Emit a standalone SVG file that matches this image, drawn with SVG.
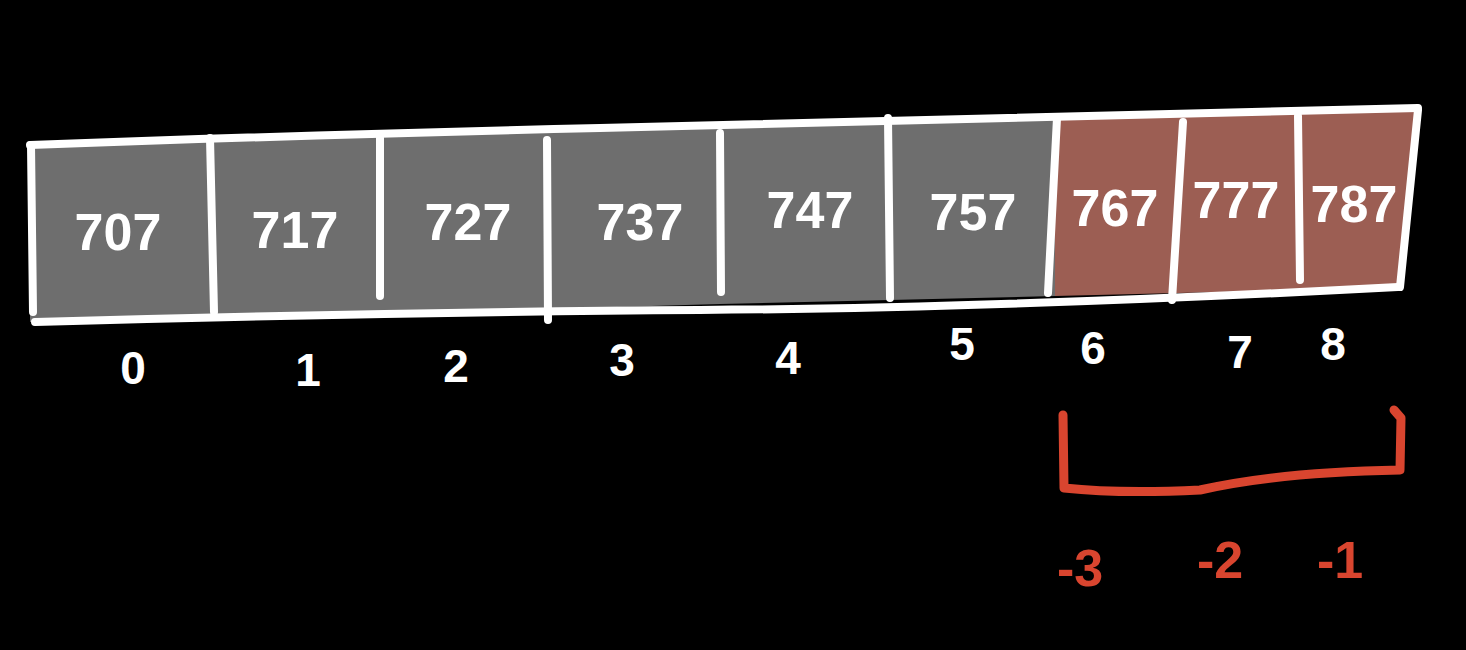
<svg xmlns="http://www.w3.org/2000/svg" width="1466" height="650" viewBox="0 0 1466 650">
<style>
.cell{stroke:none}
.gray{fill:#6e6e6e}
.red{fill:#9c5e53}
.edge{fill:none;stroke:#ffffff;stroke-width:8;stroke-linecap:round;stroke-linejoin:round}
.val{font-family:"Liberation Sans",Arial,sans-serif;font-size:52px;font-weight:bold;fill:#ffffff;text-anchor:middle}
.idx{font-family:"Liberation Sans",Arial,sans-serif;font-size:46px;font-weight:bold;fill:#ffffff;text-anchor:middle}
.neg{font-family:"Liberation Sans",Arial,sans-serif;font-size:52px;font-weight:bold;fill:#d9452f;text-anchor:middle}
.br{fill:none;stroke:#d9452f;stroke-width:9;stroke-linecap:round;stroke-linejoin:round}
</style>
<rect width="1466" height="650" fill="#000"/>
<g id="cell0"><polygon class="cell gray" points="30,145 210,140 210,318 30,322"/><text class="val" x="118" y="250">707</text><text class="idx" x="133" y="384">0</text></g>
<g id="cell1"><polygon class="cell gray" points="210,140 380,136 380,313 210,318"/><text class="val" x="295" y="248">717</text><text class="idx" x="308" y="386">1</text></g>
<g id="cell2"><polygon class="cell gray" points="380,136 548,131 548,309 380,313"/><text class="val" x="468" y="240">727</text><text class="idx" x="456" y="382">2</text></g>
<g id="cell3"><polygon class="cell gray" points="548,131 720,127 720,304 548,309"/><text class="val" x="640" y="240">737</text><text class="idx" x="622" y="376">3</text></g>
<g id="cell4"><polygon class="cell gray" points="720,127 890,122 890,300 720,304"/><text class="val" x="810" y="228">747</text><text class="idx" x="788" y="374">4</text></g>
<g id="cell5"><polygon class="cell gray" points="890,122 1055,118 1055,296 890,300"/><text class="val" x="973" y="230">757</text><text class="idx" x="962" y="360">5</text></g>
<g id="cell6"><polygon class="cell red" points="1055,118 1178,114 1178,293 1055,296"/><text class="val" x="1115" y="226">767</text><text class="idx" x="1093" y="364">6</text></g>
<g id="cell7"><polygon class="cell red" points="1178,114 1298,111 1298,290 1178,293"/><text class="val" x="1236" y="218">777</text><text class="idx" x="1240" y="368">7</text></g>
<g id="cell8"><polygon class="cell red" points="1298,111 1415,108 1400,287 1298,290"/><text class="val" x="1354" y="222">787</text><text class="idx" x="1333" y="360">8</text></g>
<g id="outline">
<path class="edge" d="M30,145 Q300,135 600,128 T1418,108"/>
<path class="edge" d="M35,322 Q400,312 700,310 T1398,287"/>
<path class="edge" d="M31,145 L33,312"/>
<path class="edge" d="M1418,110 L1400,287"/>
<path class="edge" d="M210,138 L214,312"/>
<path class="edge" d="M380,138 L380,296"/>
<path class="edge" d="M547,140 L548,320"/>
<path class="edge" d="M720,133 L721,292"/>
<path class="edge" d="M888,118 L890,298"/>
<path class="edge" d="M1057,118 L1048,293"/>
<path class="edge" d="M1183,122 L1172,300"/>
<path class="edge" d="M1298,116 L1300,280"/>
</g>
<g id="connectors">
<path class="br" d="M1063,415 L1064,488 Q1120,494 1200,490 Q1280,472 1400,470 L1401,418 L1394,410"/>
</g>
<g id="negidx">
<text class="neg" x="1080" y="586">-3</text>
<text class="neg" x="1220" y="578">-2</text>
<text class="neg" x="1340" y="578">-1</text>
</g>
</svg>
